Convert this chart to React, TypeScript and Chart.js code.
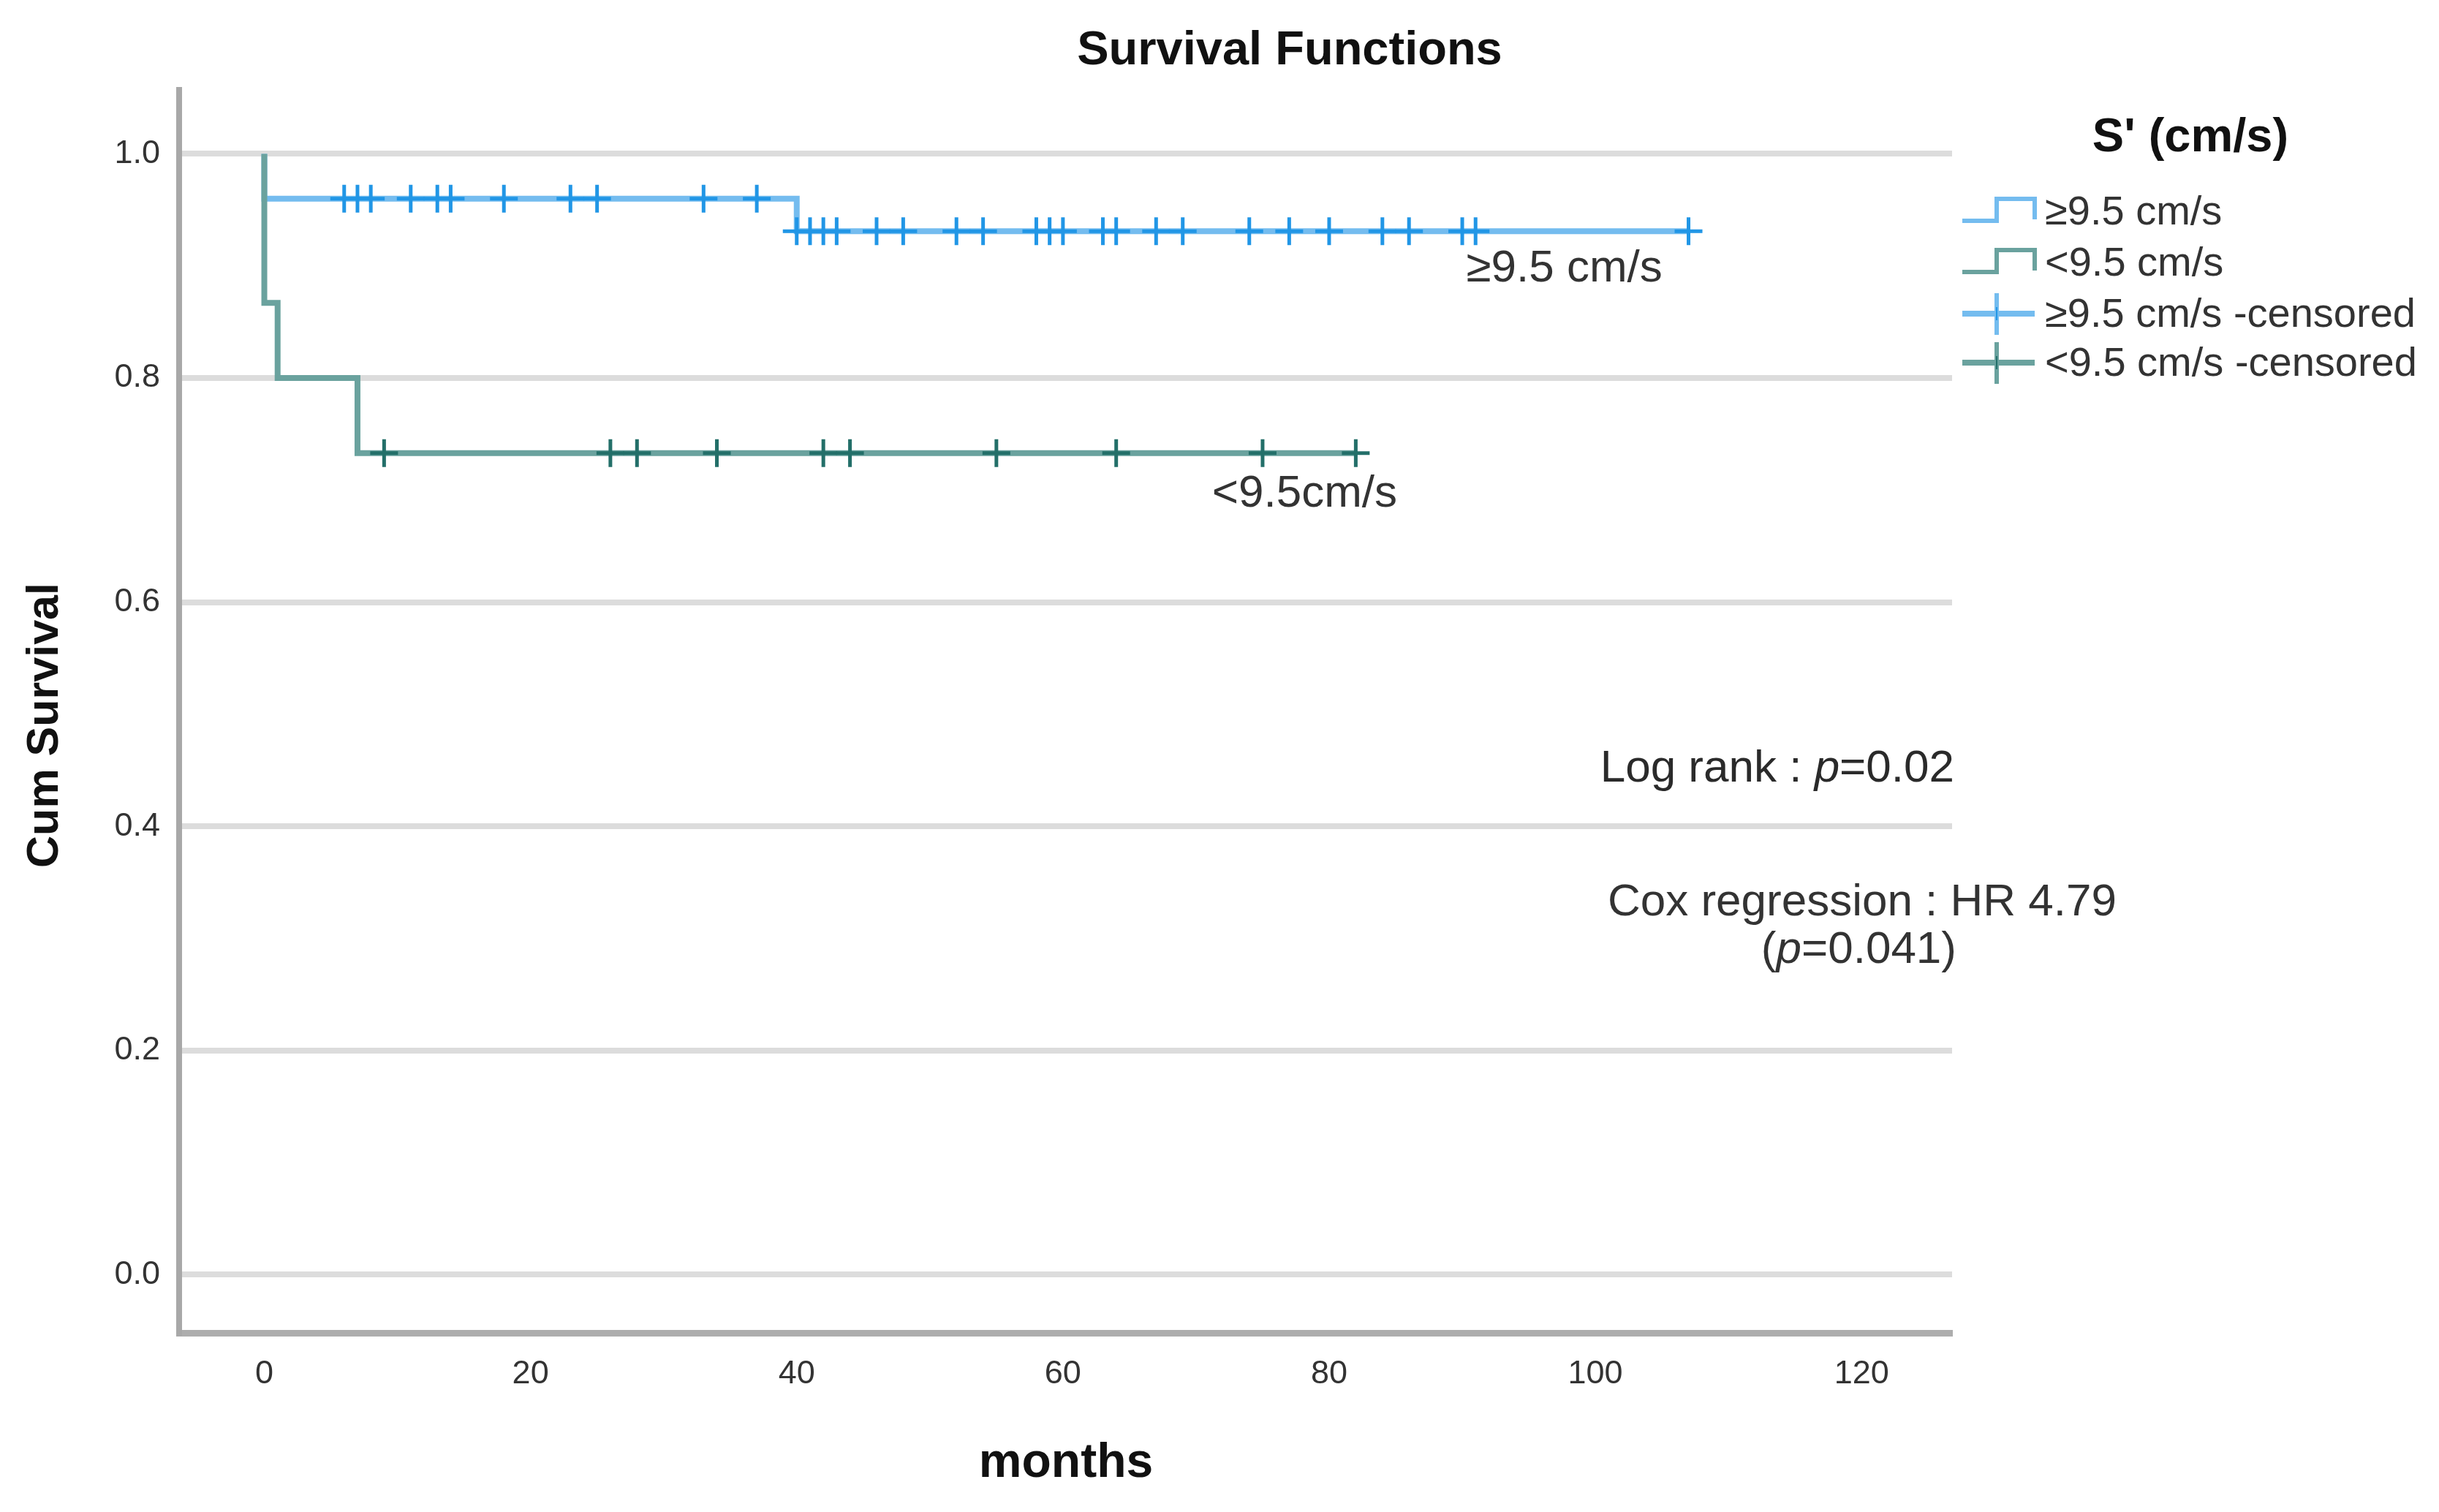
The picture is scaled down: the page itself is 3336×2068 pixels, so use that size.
import React, { useEffect, useRef } from 'react';
import { Chart, registerables } from 'chart.js';

Chart.register(...registerables);

// ---- data ----
const highTimes = [0, 0, 40, 107];
const highSurv = [1, 0.96, 0.931, 0.931];
const lowTimes = [0, 0, 1, 7, 82];
const lowSurv = [1, 0.867, 0.8, 0.733, 0.733];
const highCensored = [6, 7, 8, 11, 13, 14, 18, 23, 25, 33, 37, 40, 41, 42, 43, 46, 48, 52, 54, 58, 59, 60, 63, 64, 67, 69, 74, 77, 80, 84, 86, 90, 91, 107];
const lowCensored = [9, 26, 28, 34, 42, 44, 55, 64, 75, 82];
const xTicks = [0, 20, 40, 60, 80, 100, 120];
const yTicks = [0, 0.2, 0.4, 0.6, 0.8, 1.0];
const groupLabels = ['≥9.5 cm/s', '<9.5 cm/s'];
const legendLabels = ['≥9.5 cm/s', '<9.5 cm/s', '≥9.5 cm/s -censored', '<9.5 cm/s -censored'];
const chartTitle = 'Survival Functions';
const xTitle = 'months';
const yTitle = 'Cum Survival';
const legendTitle = "S' (cm/s)";
const curveLabels = ['≥9.5 cm/s', '<9.5cm/s'];

const FONT = "'Liberation Sans', Arial, sans-serif";
const HIGH_LINE = '#74bcef';
const HIGH_MARK = '#2196e6';
const LOW_LINE = '#6aa29e';
const LOW_MARK = '#236f69';

function survAt(times: number[], surv: number[], t: number): number {
  let v = surv[0];
  for (let i = 0; i < times.length; i++) {
    if (times[i] <= t) v = surv[i];
  }
  return v;
}

function drawRich(ctx: CanvasRenderingContext2D, parts: [string, boolean][], rightX: number, y: number, size: number, color: string) {
  const fontN = `${size}px ${FONT}`;
  const fontI = `italic ${size}px ${FONT}`;
  let total = 0;
  for (const [t, it] of parts) {
    ctx.font = it ? fontI : fontN;
    total += ctx.measureText(t).width;
  }
  let x = rightX - total;
  ctx.fillStyle = color;
  ctx.textAlign = 'left';
  ctx.textBaseline = 'middle';
  for (const [t, it] of parts) {
    ctx.font = it ? fontI : fontN;
    ctx.fillText(t, x, y);
    x += ctx.measureText(t).width;
  }
}

const decor = {
  id: 'decor',
  afterDraw(chart: any) {
    const ctx: CanvasRenderingContext2D = chart.ctx;
    const xs = chart.scales.x;
    const ys = chart.scales.y;
    ctx.save();
    // title
    ctx.fillStyle = '#111';
    ctx.textAlign = 'center';
    ctx.textBaseline = 'middle';
    ctx.font = `bold 65px ${FONT}`;
    ctx.fillText(chartTitle, 1764, 70);
    // x title
    ctx.font = `bold 66px ${FONT}`;
    ctx.fillText(xTitle, 1458, 2002);
    // y title
    ctx.save();
    ctx.translate(62, 992);
    ctx.rotate(-Math.PI / 2);
    ctx.font = `bold 61px ${FONT}`;
    ctx.fillText(yTitle, 0, 0);
    ctx.restore();

    // curve labels
    ctx.fillStyle = '#333';
    ctx.textAlign = 'left';
    ctx.font = `62px ${FONT}`;
    ctx.fillText(curveLabels[0], xs.getPixelForValue(90.3), ys.getPixelForValue(0.8975));
    ctx.fillText(curveLabels[1], xs.getPixelForValue(71.2), ys.getPixelForValue(0.696));

    // statistics
    drawRich(ctx, [['Log rank : ', false], ['p', true], ['=0.02', false]], 2673, 1052, 62, '#2a2a2a');
    drawRich(ctx, [['Cox regression : HR 4.79', false]], 2895, 1235, 62, '#333');
    drawRich(ctx, [['(', false], ['p', true], ['=0.041)', false]], 2676, 1300, 62, '#333');

    // legend
    ctx.fillStyle = '#111';
    ctx.textAlign = 'center';
    ctx.font = `bold 65px ${FONT}`;
    ctx.fillText(legendTitle, 2996, 189);

    const rows = [292, 362, 432, 499];
    const iconL = 2684, iconM = 2731, iconR = 2783, textX = 2797;
    ctx.lineCap = 'butt';
    for (let i = 0; i < 4; i++) {
      const y = rows[i];
      const lineC = i % 2 === 0 ? HIGH_LINE : LOW_LINE;
      const markC = i % 2 === 0 ? HIGH_MARK : LOW_MARK;
      if (i < 2) {
        ctx.strokeStyle = lineC;
        ctx.lineWidth = 6;
        ctx.beginPath();
        ctx.moveTo(iconL, y + 10);
        ctx.lineTo(iconM, y + 10);
        ctx.lineTo(iconM, y - 20);
        ctx.lineTo(iconR, y - 20);
        ctx.lineTo(iconR, y + 8);
        ctx.stroke();
      } else {
        ctx.strokeStyle = lineC;
        ctx.lineWidth = 8;
        ctx.beginPath();
        ctx.moveTo(iconL, y - 3);
        ctx.lineTo(iconR, y - 3);
        ctx.stroke();
        ctx.strokeStyle = lineC;
        ctx.lineWidth = 6;
        ctx.beginPath();
        ctx.moveTo(iconM, y - 31);
        ctx.lineTo(iconM, y + 26);
        ctx.stroke();
        ctx.strokeStyle = markC;
        ctx.lineWidth = 2;
        ctx.beginPath();
        ctx.moveTo(iconM, y - 12);
        ctx.lineTo(iconM, y + 6);
        ctx.stroke();
      }
      ctx.fillStyle = '#333';
      ctx.textAlign = 'left';
      ctx.textBaseline = 'middle';
      ctx.font = `56px ${FONT}`;
      ctx.fillText(legendLabels[i], textX, y);
    }
    ctx.restore();
  },
};

export default function App() {
  const ref = useRef<HTMLCanvasElement | null>(null);
  useEffect(() => {
    document.body.style.margin = '0';
    const canvas = ref.current;
    if (!canvas) return;
    const highLine = highTimes.map((t, i) => ({ x: t, y: highSurv[i] }));
    const lowLine = lowTimes.map((t, i) => ({ x: t, y: lowSurv[i] }));
    const highMarks = highCensored.map((t) => ({ x: t, y: survAt(highTimes, highSurv, t) }));
    const lowMarks = lowCensored.map((t) => ({ x: t, y: survAt(lowTimes, lowSurv, t) }));
    const chart = new Chart(canvas, {
      type: 'scatter',
      data: {
        datasets: [
          { label: groupLabels[0], data: highLine, showLine: true, stepped: 'before', borderColor: HIGH_LINE, borderWidth: 8, pointRadius: 0, order: 4 },
          { label: groupLabels[1], data: lowLine, showLine: true, stepped: 'before', borderColor: LOW_LINE, borderWidth: 8, pointRadius: 0, order: 3 },
          { label: groupLabels[0] + ' -censored', data: highMarks, showLine: false, pointStyle: 'cross', pointRadius: 19, borderColor: HIGH_MARK, borderWidth: 5, order: 2 },
          { label: groupLabels[1] + ' -censored', data: lowMarks, showLine: false, pointStyle: 'cross', pointRadius: 19, borderColor: LOW_MARK, borderWidth: 5, order: 1 },
        ],
      },
      options: {
        animation: false,
        responsive: true,
        maintainAspectRatio: false,
        devicePixelRatio: 1,
        layout: { padding: { top: 123, right: 666, bottom: 0, left: 0 } },
        plugins: { legend: { display: false }, title: { display: false }, tooltip: { enabled: false } },
        scales: {
          x: {
            type: 'linear',
            min: -6.4,
            max: 126.8,
            afterBuildTicks: (s: any) => { s.ticks = xTicks.map((v) => ({ value: v })); },
            afterFit: (s: any) => { s.height = 245; },
            grid: { display: false, drawTicks: false },
            border: { display: true, color: '#adadad', width: 9 },
            ticks: { color: '#333', font: { family: FONT, size: 45 }, padding: 30, maxRotation: 0, callback: (v: any) => String(v) },
          },
          y: {
            type: 'linear',
            min: -0.052,
            max: 1.057,
            afterBuildTicks: (s: any) => { s.ticks = yTicks.map((v) => ({ value: v })); },
            afterFit: (s: any) => { s.width = 245; },
            grid: { display: true, color: '#dcdcdc', lineWidth: 8, drawTicks: false },
            border: { display: true, color: '#a8a8a8', width: 8 },
            ticks: { color: '#333', font: { family: FONT, size: 45 }, padding: 26, callback: (v: any) => Number(v).toFixed(1) },
          },
        },
      },
      plugins: [decor],
    } as any);
    return () => chart.destroy();
  }, []);
  return (
    <div style={{ position: 'fixed', left: 0, top: 0, width: '3336px', height: '2068px', background: '#fff' }}>
      <canvas ref={ref} />
    </div>
  );
}
